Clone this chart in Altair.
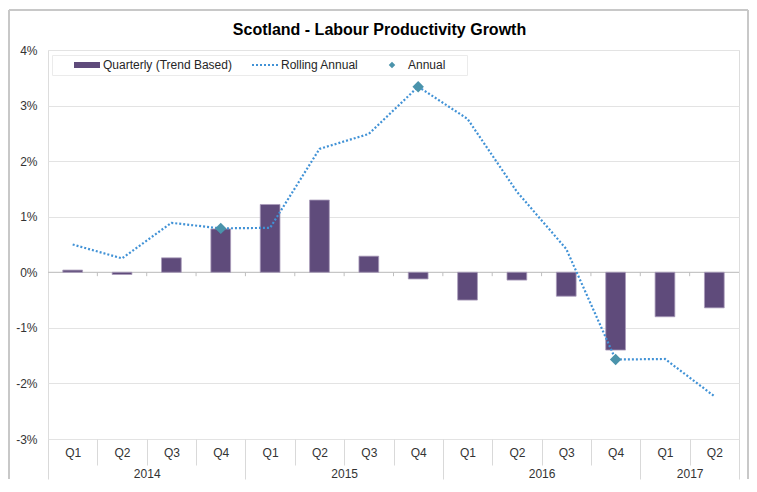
import altair as alt
import pandas as pd

# ---- data ----
quarters = ["Q1", "Q2", "Q3", "Q4", "Q1", "Q2", "Q3", "Q4", "Q1", "Q2", "Q3", "Q4", "Q1", "Q2"]
years = ["2014", "2015", "2016", "2017"]
quarters_per_year = [4, 4, 4, 2]
quarterly = [0.04, -0.04, 0.26, 0.78, 1.22, 1.30, 0.29, -0.12, -0.50, -0.14, -0.43, -1.40, -0.80, -0.64]
rolling = [0.50, 0.25, 0.89, 0.79, 0.80, 2.22, 2.49, 3.34, 2.76, 1.45, 0.42, -1.57, -1.56, -2.23]
annual_index = [3, 7, 11]
annual = [0.79, 3.34, -1.57]
series = ["Quarterly (Trend Based)", "Rolling Annual", "Annual"]
y_ticks = [-3, -2, -1, 0, 1, 2, 3, 4]

n = len(quarters)
W, H = 691, 389
FONT = "Liberation Sans"

df = pd.DataFrame({
    "i": list(range(n)),
    "x0": [i + 0.3 for i in range(n)],
    "x1": [i + 0.7 for i in range(n)],
    "xc": [i + 0.5 for i in range(n)],
    "q": quarterly,
    "r": rolling,
})
df_ann = pd.DataFrame({
    "xc": [i + 0.5 for i in annual_index],
    "a": annual,
    "series": ["Annual"] * len(annual),
})
bounds = [0]
for k in quarters_per_year:
    bounds.append(bounds[-1] + k)
year_centers = [(bounds[j] + bounds[j + 1]) / 2 for j in range(len(years))]
df_ticks = pd.DataFrame({"b": list(range(1, n)), "y0": [0.0] * (n - 1), "y1": [-0.07] * (n - 1)})
df_zero = pd.DataFrame({"x0": [0], "x1": [n], "y": [0]})
one = pd.DataFrame({"k": [0]})

xscale = alt.Scale(domain=[0, n], nice=False, zero=False)
yscale = alt.Scale(domain=[-3, 4], nice=False)
y_axis = alt.Axis(values=y_ticks, labelExpr="datum.value + '%'", title=None, domain=False,
                  ticks=False, grid=True, gridColor="#e3e3e3", labelFont=FONT, labelFontSize=12,
                  labelColor="#333333", labelPadding=11)

q_arr = "[" + ",".join("'%s'" % q for q in quarters) + "]"
y_arr = "[" + ",".join("'%s'" % y for y in years) + "]"
c_arr = "[" + ",".join(str(c) for c in year_centers) + "]"

quarter_sep = [b for b in range(n + 1) if b not in bounds]

# axis A: quarter separators
ax_a = alt.Axis(orient="bottom", values=quarter_sep, labels=False, domain=False, grid=False,
                tickSize=26, tickColor="#d9d9d9", tickWidth=1, title=None)
# axis B: year separators
ax_b = alt.Axis(orient="bottom", values=bounds, labels=False, domain=False, grid=False,
                tickSize=40, tickColor="#d9d9d9", tickWidth=1, title=None)
# axis C: quarter labels
ax_c = alt.Axis(orient="bottom", values=[i + 0.5 for i in range(n)],
                labelExpr=q_arr + "[floor(datum.value)]",
                ticks=False, domain=False, grid=False, labelPadding=8, labelFont=FONT,
                labelFontSize=12, labelColor="#333333", title=None, labelAngle=0)
# axis D: year labels
ax_d = alt.Axis(orient="bottom", values=year_centers,
                labelExpr=y_arr + "[indexof(" + c_arr + ", datum.value)]",
                ticks=False, domain=False, grid=False, labelPadding=29, labelFont=FONT,
                labelFontSize=12, labelColor="#333333", title=None, labelAngle=0)

zero_line = alt.Chart(df_zero).mark_rule(color="#bfbfbf", strokeWidth=1).encode(
    x=alt.X("x0:Q", scale=xscale, axis=None), x2="x1:Q",
    y=alt.Y("y:Q", scale=yscale, axis=y_axis),
)

zero_ticks = alt.Chart(df_ticks).mark_rule(color="#bfbfbf", strokeWidth=1).encode(
    x=alt.X("b:Q", scale=xscale, axis=ax_d),
    y=alt.Y("y0:Q", scale=yscale, axis=y_axis), y2="y1:Q",
)

bars = alt.Chart(df).mark_bar(color="#5f4b7b", stroke="#a99cba", strokeWidth=0.8).encode(
    x=alt.X("x0:Q", scale=xscale, axis=ax_a), x2="x1:Q",
    y=alt.Y("q:Q", scale=yscale, axis=y_axis), y2=alt.datum(0),
)

line = alt.Chart(df).mark_line(color="#4192d6", strokeWidth=2.2, strokeDash=[2, 2]).encode(
    x=alt.X("xc:Q", scale=xscale, axis=ax_b),
    y=alt.Y("r:Q", scale=yscale, axis=y_axis),
)

# legend symbol shapes (custom paths)
rect_path = "M-1,-0.23H1V0.23H-1Z"
dots = []
for k in range(7):
    cx = -0.923 + k * 0.3077
    dots.append("M%.3f,-0.077h0.154v0.154h-0.154Z" % (cx - 0.077))
dot_path = "".join(dots)
diamond_path = "M0,-0.25L0.25,0L0,0.25L-0.25,0Z"

pad_text = "\u2800" * 2
diamonds = alt.Chart(df_ann).mark_point(filled=True, size=2100, opacity=1, strokeWidth=0).encode(
    x=alt.X("xc:Q", scale=xscale, axis=ax_c),
    y=alt.Y("a:Q", scale=yscale, axis=y_axis),
    color=alt.Color("series:N",
                    scale=alt.Scale(domain=series, range=["#5f4b7b", "#4192d6", "#4a93ab"]),
                    legend=alt.Legend(orient="none", legendX=4, legendY=5, direction="horizontal",
                                      fillColor="#ffffff", strokeColor="#ebebeb", padding=3,
                                      title=None,
                                      labelFont=FONT, labelFontSize=12, labelColor="#262626",
                                      symbolSize=676, symbolStrokeWidth=0, columnPadding=1,
                                      labelOffset=3, clipHeight=14, symbolOffset=19,
                                      labelExpr="datum.label == 'Annual' ? 'Annual" + pad_text + "' : datum.label")),
    shape=alt.Shape("series:N",
                    scale=alt.Scale(domain=series, range=[rect_path, dot_path, diamond_path]),
                    legend=None),
)

frame_top = alt.Chart(one).mark_rule(color="#c8c8c8", strokeWidth=2).encode(
    x=alt.value(-39), x2=alt.value(W + 9), y=alt.value(-40))
frame_left = alt.Chart(one).mark_rule(color="#c8c8c8", strokeWidth=2).encode(
    x=alt.value(-39), y=alt.value(-40), y2=alt.value(H + 40))
frame_right = alt.Chart(one).mark_rule(color="#c8c8c8", strokeWidth=2).encode(
    x=alt.value(W + 9), y=alt.value(-40), y2=alt.value(H + 40))

chart = alt.layer(
    zero_line, zero_ticks, bars, line, diamonds, frame_top, frame_left, frame_right
).resolve_axis(x="independent").properties(
    width=W, height=H,
    padding={"left": 0, "top": 1, "right": 0, "bottom": 0},
    title=alt.TitleParams(text="Scotland - Labour Productivity Growth", font=FONT, fontSize=16,
                          fontWeight="bold", color="#000000", anchor="middle", dx=-14,
                          offset=-29, baseline="bottom", dy=16),
).configure_view(stroke="transparent", fill="#f2f2f2").configure(background="white")

chart.save("out.html", embed_options={"renderer": "svg", "actions": False})
